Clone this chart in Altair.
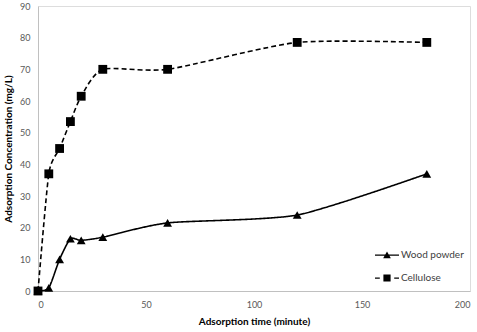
import altair as alt
import pandas as pd

time_min = [0, 5, 10, 15, 20, 30, 60, 120, 180]
wood_powder = [0, 1, 10, 16.5, 16, 17, 21.5, 24, 37]
cellulose = [0, 37, 45, 53.5, 61.5, 70, 70, 78.5, 78.5]
series_names = ["Wood powder", "Cellulose"]

rows = []
for t, w, c in zip(time_min, wood_powder, cellulose):
    rows.append({"time": t, "conc": w, "series": series_names[0], "key": series_names[0]})
    rows.append({"time": t, "conc": c, "series": series_names[1], "key": series_names[1]})
df = pd.DataFrame(rows)

FONT = "Lato"

x = alt.X("time:Q", scale=alt.Scale(domain=[0, 200], nice=False),
          axis=alt.Axis(title="Adsorption time (minute)", values=[0, 50, 100, 150, 200],
                        grid=False, ticks=False, domainColor="#c0c0c0", labelColor="#595959",
                        labelFontSize=9, titleFontSize=10, titleFont=FONT, labelFont=FONT,
                        titleFontWeight="bold", labelPadding=9, titlePadding=7))
y = alt.Y("conc:Q", scale=alt.Scale(domain=[0, 90], nice=False),
          axis=alt.Axis(title="Adsorption Concentration (mg/L)", values=list(range(0, 91, 10)),
                        grid=False, ticks=False, domainColor="#c0c0c0", labelColor="#595959",
                        labelFontSize=9, titleFontSize=10, titleFont=FONT, labelFont=FONT,
                        titleFontWeight="bold", labelPadding=8, titlePadding=6))

dash = alt.StrokeDash("series:N", scale=alt.Scale(domain=series_names, range=[[1, 0], [5, 3]]),
                      legend=None)
shape = alt.Shape("series:N", scale=alt.Scale(domain=series_names, range=["triangle-up", "square"]),
                  legend=None)

legend_paths = [
    "M-1,-0.05H1V0.06H-1Z M-0.32,0.28L0,-0.3L0.32,0.28Z",
    "M-1,-0.05H-0.6V0.06H-1Z M0.6,-0.05H1V0.06H0.6Z M-0.3,-0.3H0.3V0.3H-0.3Z",
]
legend_shape = alt.Shape("key:N", scale=alt.Scale(domain=series_names, range=legend_paths),
                         legend=alt.Legend(title=None, orient="none", legendX=337, legendY=237,
                                           labelFont=FONT, labelFontSize=10, labelColor="#404040",
                                           symbolFillColor="black", symbolStrokeColor="black",
                                           symbolStrokeWidth=0, symbolOpacity=1,
                                           symbolSize=576, rowPadding=6, labelOffset=2))

lines = alt.Chart(df).mark_line(interpolate="cardinal", tension=0.35, color="black",
                                strokeWidth=1.6).encode(
    x=x, y=y, strokeDash=dash, detail="series:N")
points = alt.Chart(df).mark_point(filled=True, color="black", size=78, opacity=1).encode(
    x=x, y=y, shape=shape)
legend_layer = alt.Chart(df).mark_point(filled=True, color="black", size=1, opacity=0).encode(
    x=x, y=y, shape=legend_shape)

chart = alt.layer(lines, points, legend_layer).resolve_scale(shape="independent").properties(
    width=432, height=285).configure_view(strokeWidth=0).configure(
    padding={"left": 3, "top": 2, "right": 2, "bottom": 5}, background="white")

chart.save("out.html", embed_options={"renderer": "svg", "actions": False})
